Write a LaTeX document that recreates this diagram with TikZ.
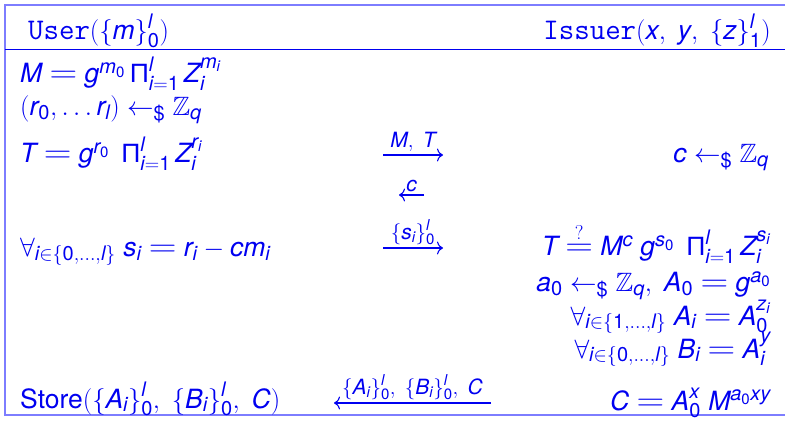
\RequirePackage{fix-cm}
\documentclass[tikz,border=0pt]{standalone}
\usepackage{amsmath,amssymb,graphicx}
\usepackage{mathspec}
\setmainfont{TeX Gyre Heros}
\setmathsfont(Digits,Latin){TeX Gyre Heros}
\newfontfamily\grk{Liberation Sans}
\newcommand\Prd{\mathop{\text{\grk Π}}\nolimits}
\newcommand\eqw{\mathrel{\scalebox{1.45}[1.2]{$=$}}}
\newcommand\rnd{\leftarrow_{\text{\$}}}
\DeclareMathSizes{26.5}{26.5}{20}{15}
\DeclareMathSizes{21}{21}{15}{12}
\AtBeginDocument{\begingroup
  \fontsize{26.5}{31}\selectfont\sbox0{$ $}\fontdimen5\textfont2=14pt\relax
  \fontsize{21}{25}\selectfont\sbox0{$ $}\fontdimen5\textfont2=11pt\relax
  \endgroup}
\usetikzlibrary{arrows.meta}
\definecolor{txtblue}{RGB}{0,0,240}
\definecolor{frameblue}{RGB}{125,125,255}
\newcommand\hdtt[1]{{\ttfamily\fontsize{30}{36}\selectfont #1}}
\tikzset{
  txt/.style={font=\fontsize{26.5}{31}\selectfont, text=txtblue, inner sep=0pt},
  lft/.style={txt, anchor=base west},
  rgt/.style={txt, anchor=base east},
  msg/.style={draw=txtblue, line width=1.1pt, -{To[length=6pt,width=13pt]}},
  lbl/.style={font=\fontsize{21}{25}\selectfont, text=txtblue, inner sep=2.5pt, above},
  framel/.style={draw=frameblue, line width=1.4pt},
  headl/.style={draw=txtblue, line width=1pt}
}
\begin{document}
\begin{tikzpicture}[x=1pt,y=-1pt]
\useasboundingbox (0,0) rectangle (785,422);
% frame
\draw[framel] (785,5) -- (5,5) -- (5,415) -- (785,415);
\draw[headl] (5,50) -- (785,50);
% header
\node[lft] (user) at (28,40) {\hdtt{User}$(\{m\}_0^l)$};
\node[rgt] (issuer) at (771,40) {\hdtt{Issuer}$(x,\ y,\ \{z\}_1^l)$};
% user side
\node[lft] (u1) at (20,83) {$M \eqw g^{m_0}\Prd_{i=1}^{l} Z_i^{m_i}$};
\node[lft] (u2) at (20,116) {$(r_0, \ldots r_l) \rnd \mathbb{Z}_q$};
\node[lft] (u3) at (20,163) {$T \eqw g^{r_0}\ \Prd_{i=1}^{l} Z_i^{r_i}$};
\node[lft] (u4) at (20,257) {$\forall_{i\in\{0,\ldots,l\}}\ s_i \eqw r_i - cm_i$};
\node[lft] (u5) at (20,408) {Store$(\{A_i\}_0^l,\ \{B_i\}_0^l,\ C)$};
% issuer side
\node[rgt] (i1) at (769,163) {$c \rnd \mathbb{Z}_q$};
\node[rgt] (i2) at (771,256) {$T \stackrel{?}{\eqw} M^c\ g^{s_0}\ \Prd_{i=1}^l Z_i^{s_i}$};
\node[rgt] (i3) at (771,292) {$a_0 \rnd \mathbb{Z}_q,\ A_0 \eqw g^{a_0}$};
\node[rgt] (i4) at (771,325) {$\forall_{i\in\{1,\ldots,l\}}\ A_i \eqw A_0^{z_i}$};
\node[rgt] (i5) at (771,358) {$\forall_{i\in\{0,\ldots,l\}}\ B_i \eqw A_i^{y}$};
\node[rgt] (i6) at (771,410) {$C \eqw A_0^x\ M^{a_0xy}$};
% messages
\coordinate (m1s) at (383,155); \coordinate (m1e) at (443,155);
\coordinate (m2s) at (424,195); \coordinate (m2e) at (399,195);
\coordinate (m3s) at (383,248); \coordinate (m3e) at (443,248);
\coordinate (m4s) at (491,403); \coordinate (m4e) at (334,403);
\draw[msg] (m1s) -- node[lbl] (l1) {$M,\ T$} (m1e);
\draw[msg] (m2s) -- node[lbl] (l2) {$c$} (m2e);
\draw[msg] (m3s) -- node[lbl] (l3) {$\{s_i\}_0^l$} (m3e);
\draw[msg] (m4s) -- node[lbl] (l4) {$\{A_i\}_0^l,\ \{B_i\}_0^l,\ C$} (m4e);
\end{tikzpicture}
\end{document}
